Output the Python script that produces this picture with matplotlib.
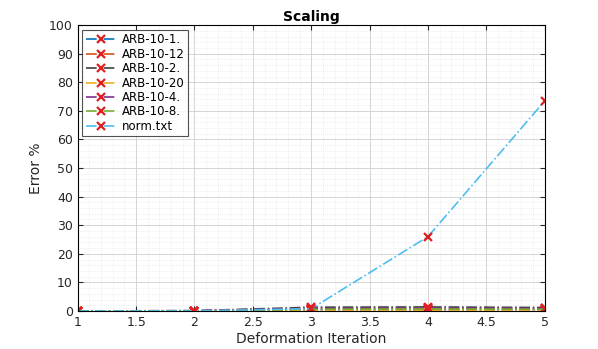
import numpy as np
from matplotlib import pyplot as plt

# deformation iterations
iters = [1, 2, 3, 4, 5]

# error % per file
arb_10_1 = [0.0, 0.0, 0.3, 0.3, 0.3]
arb_10_12 = [0.0, 0.0, 0.5, 0.6, 0.5]
arb_10_2 = [0.0, 0.1, 1.3, 1.4, 1.2]
arb_10_20 = [0.0, 0.0, 0.2, 0.2, 0.2]
arb_10_4 = [0.0, 0.1, 0.9, 1.0, 0.9]
arb_10_8 = [0.0, 0.0, 0.6, 0.7, 0.6]
norm = [0.0, 0.0, 0.8, 26.0, 73.5]

names = ['ARB-10-1.', 'ARB-10-12', 'ARB-10-2.', 'ARB-10-20', 'ARB-10-4.', 'ARB-10-8.', 'norm.txt']
series = [arb_10_1, arb_10_12, arb_10_2, arb_10_20, arb_10_4, arb_10_8, norm]
colors = ['#0072BD', '#D95319', '#404040', '#EDB120', '#7E2F8E', '#77AC30', '#4DBEEE']

fig = plt.figure(figsize=(5.98, 3.49), dpi=100)
ax = fig.add_axes([0.130, 0.109, 0.781, 0.819])

for name, vals, c in zip(names, series, colors):
    ax.plot(iters, vals, linestyle='-.', color=c, marker='x', markeredgecolor='#E02020',
            markersize=6, markeredgewidth=1.6, linewidth=1.2, label=name)

ax.set_xlim(1, 5)
ax.set_ylim(0, 100)
ax.set_xticks(np.arange(1, 5.01, 0.5))
ax.set_xticklabels(['1', '1.5', '2', '2.5', '3', '3.5', '4', '4.5', '5'])
ax.set_yticks(np.arange(0, 101, 10))
ax.set_xticks(np.arange(1, 5.01, 0.1), minor=True)
ax.set_yticks(np.arange(0, 101, 2), minor=True)
ax.grid(True, which='major', color='#cfcfcf', linewidth=0.6)
ax.grid(True, which='minor', color='#e2e2e2', linewidth=0.5, linestyle=':')
ax.tick_params(which='both', direction='in', labelsize=9, colors='#262626', top=True, right=True)
ax.tick_params(which='minor', length=0)
ax.set_axisbelow(True)

ax.set_title('Scaling', fontsize=10, fontweight='bold', pad=3)
ax.set_xlabel('Deformation Iteration', fontsize=10, labelpad=2, color='#262626')
ax.set_ylabel('Error %', fontsize=10, color='#262626')

leg = ax.legend(loc='upper left', fontsize=8.5, frameon=True, fancybox=False,
                edgecolor='#262626', borderpad=0.3, labelspacing=0.12,
                handlelength=2.6, handletextpad=0.4, borderaxespad=0.4)
leg.get_frame().set_linewidth(0.8)

plt.savefig('out.png', dpi=100)
